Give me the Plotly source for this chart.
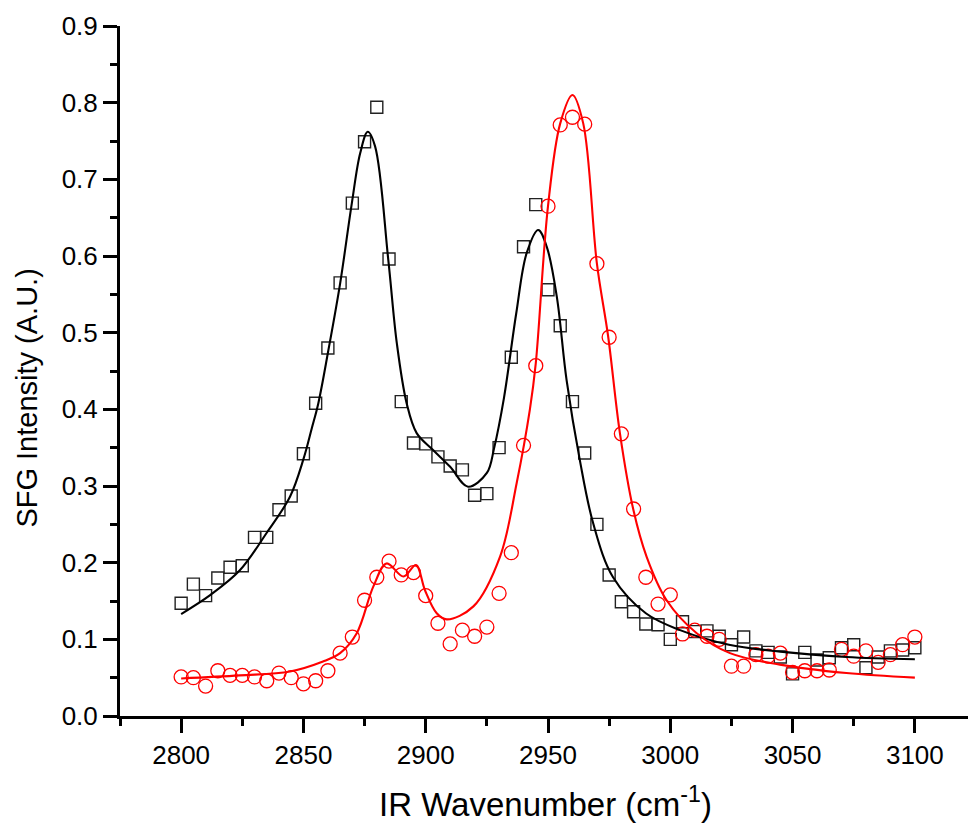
import plotly.graph_objects as go

wavenumber = list(range(2800, 3101, 5))

black_data = [0.147, 0.172, 0.157, 0.180, 0.194, 0.196, 0.233, 0.233, 0.269, 0.287,
              0.342, 0.408, 0.480, 0.565, 0.669, 0.749, 0.794, 0.596, 0.410, 0.356,
              0.355, 0.338, 0.326, 0.321, 0.288, 0.290, 0.350, 0.468, 0.612, 0.667,
              0.556, 0.509, 0.410, 0.343, 0.250, 0.184, 0.149, 0.136, 0.120, 0.119,
              0.100, 0.123, 0.110, 0.111, 0.104, 0.093, 0.103, 0.085, 0.083, 0.077,
              0.055, 0.083, 0.073, 0.076, 0.089, 0.093, 0.063, 0.077, 0.085, 0.086,
              0.089]

red_data = [0.051, 0.050, 0.039, 0.059, 0.053, 0.053, 0.051, 0.046, 0.056, 0.050,
            0.042, 0.046, 0.059, 0.082, 0.103, 0.151, 0.181, 0.202, 0.184, 0.187,
            0.157, 0.121, 0.094, 0.112, 0.104, 0.116, 0.160, 0.213, 0.353, 0.457,
            0.665, 0.771, 0.781, 0.772, 0.590, 0.494, 0.368, 0.270, 0.181, 0.146,
            0.158, 0.107, 0.112, 0.104, 0.100, 0.065, 0.065, 0.080, 0.078, 0.082,
            0.057, 0.059, 0.059, 0.060, 0.087, 0.078, 0.085, 0.070, 0.080, 0.093,
            0.103]

black_fit_x = [2800, 2812, 2824, 2835, 2844.5, 2850, 2853.4, 2856.1, 2860.2, 2865,
               2869.8, 2873.2, 2876.3, 2879.3, 2884.7, 2888.2, 2892.2, 2896.3, 2903,
               2910, 2917.3, 2925, 2928, 2932, 2937, 2941.3, 2946, 2949.5, 2953.6,
               2957.6, 2963, 2968.5, 2976.6, 2990, 3004, 3024, 3045, 3072, 3100]
black_fit_y = [0.133, 0.158, 0.190, 0.239, 0.286, 0.335, 0.375, 0.408, 0.477, 0.564,
               0.669, 0.734, 0.762, 0.743, 0.595, 0.486, 0.408, 0.369, 0.347,
               0.325, 0.299, 0.317, 0.350, 0.415, 0.525, 0.604, 0.634, 0.612, 0.547,
               0.438, 0.334, 0.251, 0.181, 0.134, 0.112, 0.093, 0.084, 0.077, 0.074]

red_fit_x = [2800, 2824, 2844.5, 2858, 2865, 2871.8, 2878.6, 2884, 2890.9, 2896,
             2899.7, 2904.5, 2908.6, 2919.5, 2930.4, 2937.2, 2942.6, 2945, 2950,
             2955, 2960, 2964.4, 2970, 2974.6, 2979.4, 2984.9, 2990.3, 2998.5,
             3010.8, 3024.4, 3044.8, 3072, 3100]
red_fit_y = [0.049, 0.053, 0.058, 0.071, 0.082, 0.108, 0.169, 0.199, 0.182, 0.197,
             0.164, 0.134, 0.126, 0.143, 0.208, 0.304, 0.400, 0.460, 0.665,
             0.773, 0.810, 0.773, 0.590, 0.495, 0.369, 0.269, 0.208, 0.151,
             0.108, 0.082, 0.067, 0.056, 0.050]

x_title = "IR Wavenumber (cm<sup>-1</sup>)"
y_title = "SFG Intensity (A.U.)"

FONT = "Liberation Sans, Arial, sans-serif"

fig = go.Figure()
fig.add_trace(go.Scatter(x=wavenumber, y=black_data, mode="markers",
                         marker=dict(symbol="square-open", size=12, color="#222222",
                                     line=dict(width=1.4, color="#222222")),
                         showlegend=False))
fig.add_trace(go.Scatter(x=wavenumber, y=red_data, mode="markers",
                         marker=dict(symbol="circle-open", size=14, color="#ff0000",
                                     line=dict(width=1.3, color="#ff0000")),
                         showlegend=False))
fig.add_trace(go.Scatter(x=black_fit_x, y=black_fit_y, mode="lines",
                         line=dict(color="black", width=2.1, shape="spline", smoothing=1.0),
                         showlegend=False))
fig.add_trace(go.Scatter(x=red_fit_x, y=red_fit_y, mode="lines",
                         line=dict(color="#ff0000", width=2.1, shape="spline", smoothing=1.0),
                         showlegend=False))

axis_common = dict(showline=True, linewidth=3, linecolor="black", ticks="outside",
                   ticklen=14, tickwidth=3, tickcolor="black", showgrid=False,
                   zeroline=False, tickfont=dict(family=FONT, size=26, color="black"))

fig.update_xaxes(range=[2775, 3125], dtick=50, tick0=2800,
                 minor=dict(ticks="outside", ticklen=7, tickwidth=3, tickcolor="black", dtick=25, tick0=2775),
                 **axis_common)
fig.update_yaxes(range=[0, 0.9], dtick=0.1, tick0=0, tickformat=".1f",
                 minor=dict(ticks="outside", ticklen=7, tickwidth=3, tickcolor="black", dtick=0.05, tick0=0),
                 **axis_common)

# axis titles placed as annotations (paper coords relative to plot area)
fig.add_annotation(text=x_title, xref="paper", yref="paper", x=0.4965, y=-0.124,
                   xanchor="center", yanchor="middle", showarrow=False,
                   font=dict(family=FONT, size=33, color="black"))
fig.add_annotation(text=y_title, xref="paper", yref="paper", x=-0.109, y=0.461,
                   xanchor="center", yanchor="middle", showarrow=False, textangle=-90,
                   font=dict(family=FONT, size=29, color="black"))

fig.update_layout(width=968, height=819, plot_bgcolor="white", paper_bgcolor="white",
                  margin=dict(l=112, r=0, t=18, b=111, autoexpand=False))

fig.write_html("out.html")
